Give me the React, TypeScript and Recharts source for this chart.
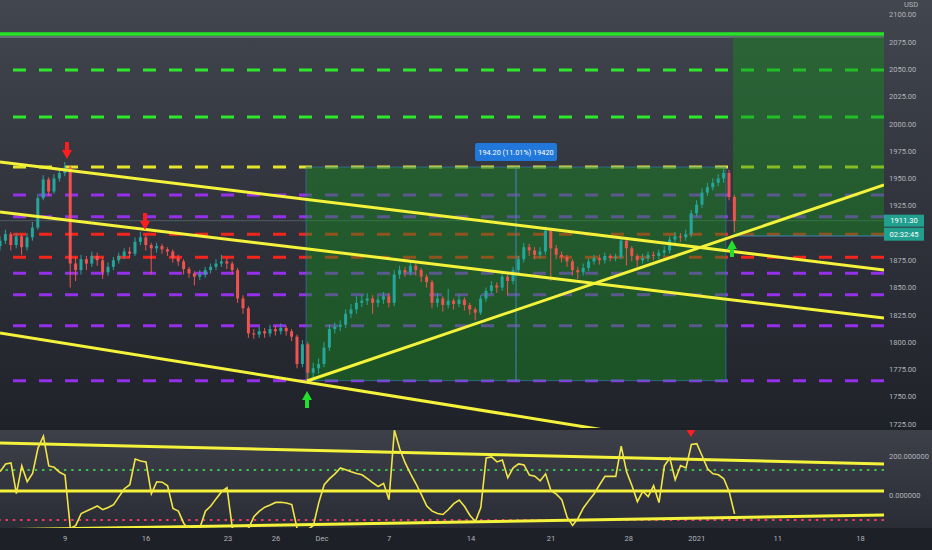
import React from "react";
import {
  ComposedChart,
  Bar,
  Line,
  XAxis,
  YAxis,
  ReferenceLine,
  ReferenceArea,
  ReferenceDot,
} from "recharts";

// time axis: trading-day index, Nov 9 = 0, three candles per day
const X_MIN = -4.012;
const X_MAX = 50.556;
const T0 = -4;

const dateTicks = [0, 5, 10.06, 13.02, 15.86, 20, 25.06, 30, 34.8, 39, 44, 49.1];
const dateLabels = ["9", "16", "23", "26", "Dec", "7", "14", "21", "28", "2021", "11", "18"];

// 1900 is hidden under the last-price tags on the original
const priceTicks = [1725, 1750, 1775, 1800, 1825, 1850, 1875, 1925, 1950, 1975, 2000, 2025, 2050, 2075, 2100];

const firstOpen = 1888;
const closes = [
  1893, 1899, 1889, 1897, 1887, 1896, 1905, 1932, 1949, 1938, 1950, 1955, 1960,
  1872, 1866, 1876, 1872, 1879, 1875, 1864, 1869, 1875, 1879, 1883, 1881,
  1892, 1896, 1889, 1886, 1888, 1885, 1883, 1877, 1874, 1867, 1863, 1860,
  1862, 1866, 1869, 1872, 1874, 1872, 1866, 1840, 1831, 1808, 1807, 1810,
  1808, 1812, 1810, 1813, 1810, 1805, 1780, 1798, 1772, 1776, 1780, 1795,
  1812, 1814, 1816, 1826, 1830, 1836, 1838, 1840, 1836, 1839, 1842, 1836,
  1862, 1866, 1864, 1870, 1866, 1860, 1855, 1836, 1840, 1834, 1838, 1835,
  1839, 1834, 1830, 1827, 1840, 1847, 1852, 1850, 1860, 1856, 1866, 1876,
  1887, 1884, 1880, 1883, 1902, 1886, 1880, 1878, 1874, 1866, 1864, 1868,
  1874, 1877, 1875, 1879, 1877, 1878, 1893, 1886, 1879, 1875, 1877, 1880,
  1879, 1882, 1884, 1894, 1897, 1896, 1899, 1918, 1926, 1937, 1942, 1946,
  1950, 1955, 1933, 1911,
];
const highs = [
  1897, 1903, 1901, 1900, 1899, 1900, 1910, 1936, 1953, 1951, 1954, 1959, 1965,
  1962, 1878, 1880, 1879, 1883, 1882, 1877, 1873, 1878, 1882, 1886, 1887,
  1896, 1901, 1898, 1891, 1891, 1890, 1887, 1885, 1880, 1876, 1869, 1865,
  1866, 1869, 1872, 1876, 1880, 1877, 1874, 1868, 1843, 1833, 1812, 1814,
  1813, 1816, 1815, 1817, 1815, 1812, 1807, 1802, 1800, 1781, 1785, 1800,
  1816, 1818, 1820, 1830, 1835, 1842, 1843, 1845, 1843, 1842, 1846, 1845,
  1866, 1870, 1869, 1874, 1872, 1868, 1862, 1857, 1845, 1842, 1849, 1840,
  1843, 1841, 1836, 1832, 1843, 1850, 1856, 1855, 1864, 1862, 1869, 1879,
  1891, 1890, 1887, 1887, 1906, 1904, 1889, 1883, 1880, 1876, 1869, 1872,
  1877, 1880, 1880, 1882, 1881, 1881, 1896, 1895, 1888, 1881, 1881, 1883,
  1883, 1885, 1888, 1897, 1901, 1900, 1903, 1921, 1930, 1941, 1946, 1950,
  1954, 1959, 1958, 1935,
];
const lows = [
  1884, 1890, 1884, 1886, 1880, 1884, 1893, 1903, 1930, 1934, 1936, 1947, 1952,
  1850, 1856, 1862, 1866, 1869, 1870, 1858, 1861, 1866, 1872, 1876, 1877,
  1879, 1889, 1884, 1862, 1882, 1881, 1879, 1873, 1870, 1862, 1859, 1852,
  1857, 1859, 1863, 1866, 1869, 1867, 1862, 1836, 1826, 1804, 1803, 1804,
  1804, 1805, 1806, 1807, 1806, 1801, 1776, 1777, 1765, 1767, 1771, 1777,
  1792, 1808, 1810, 1813, 1822, 1826, 1832, 1834, 1826, 1832, 1835, 1832,
  1833, 1858, 1860, 1861, 1861, 1855, 1850, 1831, 1832, 1828, 1831, 1830,
  1832, 1829, 1825, 1820, 1825, 1837, 1844, 1845, 1847, 1843, 1853, 1862,
  1873, 1879, 1876, 1877, 1880, 1856, 1876, 1873, 1869, 1861, 1858, 1861,
  1865, 1871, 1871, 1872, 1874, 1874, 1876, 1870, 1874, 1869, 1872, 1874,
  1875, 1876, 1879, 1881, 1891, 1892, 1893, 1896, 1915, 1923, 1934, 1939,
  1943, 1946, 1930, 1901,
];

const cci = [
  121, 160, 165, 10, 150, 70, 112, 240, 300, 150, 143, 118, 104,
  -165, -150, -90, -77, -65, -52, -70, -60, -45, -5, 35, 55,
  185, 175, 170, 10, 70, 68, 50, -65, -78, -140, -170, -170,
  -160, -78, -52, -15, 20, 40, -165, -170, -170, -165, -105, -78,
  -58, -47, -34, -33, -37, -45, -168, -170, -170, -150, -35, 55,
  86, 110, 140, 130, 120, 112, 105, 86, 65, 46, 62, -20,
  330, 235, 165, 110, 60, 5, -52, -78, -90, -95, -70, -40,
  -22, -55, -100, -130, -60, 190, 195, 170, 180, 90, 140, 160,
  155, 104, 98, 75, 110, 25, 8, -20, -110, -150, -115, -62,
  -25, 10, 55, 97, 97, 97, 250, 120, 50, -30, 22, -5,
  50, -35, 150, 190, 80, 152, 140, 258, 262, 200, 135, 110,
  105, 85, 20, -92,
];

// horizontal levels
const targetLevel = 2082.3;
const targetEdge = 2079.6;
const greenLevels = [2049.4, 2006.3];
const yellowLevels = [1960.5];
const purpleLevels = [1934.8, 1915.0, 1863.1, 1843.5, 1815.1, 1764.7];
const redLevels = [1898.8, 1877.7];
const lastPrice = 1911.3;

// trend lines [[t, price], [t, price]]
const priceTrends = [
  [[X_MIN, 1965.1], [X_MAX, 1866.1]],
  [[X_MIN, 1919.2], [X_MAX, 1822.1]],
  [[X_MIN, 1808.4], [X_MAX, 1678.3]],
  [[14.94, 1764.4], [X_MAX, 1944.0]],
];

// measured range box and long box
const rangeBox = { x1: 14.88, x2: 40.8, y1: 1764.7, y2: 1960.5, mid: 27.84 };
const longBox = { x1: 41.23, x2: X_MAX, y1: 1897.3, y2: 2079.6 };
const rangeText = "194.20 (11.01%) 19420";
const rangeTagPos = [27.84, 1974.2];

const downArrows = [[0.12, 1975.1], [4.94, 1910.1]];
const upArrows = [[14.94, 1747.9], [41.17, 1886.3]];

// indicator panel
const cciTicks = [0, 200];
const cciUpper = 129.5;
const cciLower = -122.5;
const cciMid = 23.7;
const cciTrends = [
  [[X_MIN, 265.6], [X_MAX, 159.8]],
  [[X_MIN, -171.9], [X_MAX, -97.3]],
];
const cciSignal = [38.64, 316];

const UP = "#26a69a";
const DOWN = "#ef5350";
const YELLOW = "#f4f23a";
const FONT = "Roboto, sans-serif";
const tickStyle = { fill: "#b2b5be", fontSize: 7.5, fontFamily: FONT };

const candles = closes.map((c, i) => ({
  t: T0 + i / 3,
  o: i === 0 ? firstOpen : closes[i - 1],
  h: highs[i],
  l: lows[i],
  c,
  range: [lows[i], highs[i]],
}));

const cciRows = cci.map((v, i) => ({ t: T0 + i / 3, v }));

const Candle = (props: any) => {
  const { x, y, width, height, payload } = props;
  if (!payload) return null;
  const { o, h, l, c } = payload;
  const top = Math.min(y, y + height);
  const span = Math.abs(height);
  const k = h === l ? 0 : span / (h - l);
  const yOf = (v: number) => top + (h - v) * k;
  const color = c >= o ? UP : DOWN;
  const bodyTop = yOf(Math.max(o, c));
  const bodyH = Math.max(1, Math.abs(yOf(o) - yOf(c)));
  const cx = x + width / 2;
  return (
    <g>
      <line x1={cx} x2={cx} y1={top} y2={top + span} stroke={color} strokeWidth={1} />
      <rect x={x} y={bodyTop} width={width} height={bodyH} fill={color} />
    </g>
  );
};

const DownArrow = ({ cx, cy }: any) => (
  <g fill="#ff1e1e">
    <rect x={cx - 2} y={cy - 9} width={4} height={9} />
    <polygon points={`${cx - 5},${cy - 1} ${cx + 5},${cy - 1} ${cx},${cy + 8}`} />
  </g>
);

const UpArrow = ({ cx, cy }: any) => (
  <g fill="#22e02a">
    <rect x={cx - 2} y={cy} width={4} height={9} />
    <polygon points={`${cx - 5},${cy + 1} ${cx + 5},${cy + 1} ${cx},${cy - 8}`} />
  </g>
);

const RangeTag = ({ cx, cy }: any) => (
  <g>
    <rect x={cx - 41} y={cy - 9} width={82} height={18} rx={2} fill="#2178da" />
    <text x={cx} y={cy + 2.5} textAnchor="middle" fill="#ffffff" fontSize={7.3} fontFamily={FONT}>
      {rangeText}
    </text>
  </g>
);

const PriceTag = ({ cx, cy }: any) => (
  <g fontFamily={FONT} fontSize={7.5}>
    <rect x={cx} y={cy - 6} width={40} height={12} fill="#22a08f" />
    <text x={cx + 20} y={cy + 2.6} textAnchor="middle" fill="#ffffff">
      {lastPrice.toFixed(2)}
    </text>
    <rect x={cx} y={cy + 7} width={40} height={13} fill="#22a08f" />
    <text x={cx + 20} y={cy + 16} textAnchor="middle" fill="#ffffff">
      02:32:45
    </text>
  </g>
);

const SignalTriangle = ({ cx, cy }: any) => (
  <polygon points={`${cx - 5},${cy - 4} ${cx + 5},${cy - 4} ${cx},${cy + 4}`} fill="#ff1e1e" />
);

const dash = "13 13";

function PriceChart() {
  return (
    <ComposedChart width={932} height={428} data={candles} margin={{ top: 0, right: 0, bottom: 0, left: 0 }}>
      <XAxis dataKey="t" type="number" domain={[X_MIN, X_MAX]} allowDataOverflow hide />
      <YAxis
        orientation="right"
        width={48}
        domain={[1721.33, 2113.5]}
        allowDataOverflow
        ticks={priceTicks}
        interval={0}
        tickFormatter={(v: number) => v.toFixed(2)}
        tick={tickStyle}
        tickLine={false}
        axisLine={false}
        tickSize={5}
        tickMargin={0}
      />
      <ReferenceLine y={lastPrice} stroke="#5b6f72" strokeWidth={1} strokeOpacity={0.7} zIndex={100} />
      <ReferenceLine y={targetEdge} stroke="#8d9a9c" strokeWidth={1} zIndex={100} />
      <ReferenceLine y={targetLevel} stroke="#27e327" strokeWidth={3.5} zIndex={100} />
      {greenLevels.map((v) => (
        <ReferenceLine key={"g" + v} y={v} stroke="#2ee82e" strokeWidth={3} strokeDasharray={dash} zIndex={100} />
      ))}
      {yellowLevels.map((v) => (
        <ReferenceLine key={"y" + v} y={v} stroke="#e4e42c" strokeWidth={3} strokeDasharray={dash} zIndex={100} />
      ))}
      {purpleLevels.map((v) => (
        <ReferenceLine key={"p" + v} y={v} stroke="#9430ea" strokeWidth={3} strokeDasharray={dash} zIndex={100} />
      ))}
      {redLevels.map((v) => (
        <ReferenceLine key={"r" + v} y={v} stroke="#f3261e" strokeWidth={3} strokeDasharray={dash} zIndex={100} />
      ))}
      <ReferenceArea
        x1={rangeBox.x1}
        x2={rangeBox.x2}
        y1={rangeBox.y1}
        y2={rangeBox.y2}
        fill="#148c1e"
        fillOpacity={0.45}
        stroke="#3b7fc0"
        strokeOpacity={0.6}
        zIndex={150}
      />
      <ReferenceArea
        x1={longBox.x1}
        x2={longBox.x2}
        y1={longBox.y1}
        y2={longBox.y2}
        fill="#148c1e"
        fillOpacity={0.45}
        zIndex={150}
      />
      <ReferenceLine
        segment={[{ x: rangeBox.mid, y: rangeBox.y1 }, { x: rangeBox.mid, y: rangeBox.y2 }]}
        stroke="#3c8ab8"
        strokeWidth={1}
        zIndex={160}
      />
      <ReferenceLine
        segment={[{ x: longBox.x1, y: longBox.y1 }, { x: longBox.x2, y: longBox.y1 }]}
        stroke="#3d86b8"
        strokeWidth={1}
        zIndex={160}
      />
      <Bar dataKey="range" barSize={3} shape={Candle} isAnimationActive={false} zIndex={200} />
      {priceTrends.map((s, i) => (
        <ReferenceLine
          key={"t" + i}
          segment={[{ x: s[0][0], y: s[0][1] }, { x: s[1][0], y: s[1][1] }]}
          stroke={YELLOW}
          strokeWidth={3}
          ifOverflow="hidden"
          zIndex={400}
        />
      ))}
      {downArrows.map((a, i) => (
        <ReferenceDot key={"d" + i} x={a[0]} y={a[1]} r={0} shape={DownArrow} ifOverflow="visible" zIndex={500} />
      ))}
      {upArrows.map((a, i) => (
        <ReferenceDot key={"u" + i} x={a[0]} y={a[1]} r={0} shape={UpArrow} ifOverflow="visible" zIndex={500} />
      ))}
      <ReferenceDot x={rangeTagPos[0]} y={rangeTagPos[1]} r={0} shape={RangeTag} ifOverflow="visible" zIndex={500} />
      <ReferenceDot x={X_MAX} y={lastPrice} r={0} shape={PriceTag} ifOverflow="visible" zIndex={500} />
    </ComposedChart>
  );
}

function IndicatorChart() {
  return (
    <ComposedChart width={932} height={120} data={cciRows} margin={{ top: 0, right: 0, bottom: 0, left: 0 }}>
      <XAxis
        dataKey="t"
        type="number"
        domain={[X_MIN, X_MAX]}
        allowDataOverflow
        ticks={dateTicks}
        interval={0}
        tickFormatter={(_v: number, i: number) => dateLabels[i]}
        tick={tickStyle}
        tickLine={false}
        axisLine={false}
        height={22}
      />
      <YAxis
        orientation="right"
        width={48}
        domain={[-163, 331]}
        allowDataOverflow
        ticks={cciTicks}
        interval={0}
        tickFormatter={(v: number) => v.toFixed(6)}
        tick={tickStyle}
        tickLine={false}
        axisLine={false}
        tickSize={5}
        tickMargin={0}
      />
      <ReferenceLine y={cciUpper} stroke="#3fbf4f" strokeWidth={2} strokeDasharray="2.5 4.8" />
      <ReferenceLine y={cciLower} stroke="#ec3a68" strokeWidth={2} strokeDasharray="2.5 4.8" />
      <ReferenceLine y={cciMid} stroke={YELLOW} strokeWidth={3} />
      {cciTrends.map((s, i) => (
        <ReferenceLine
          key={"c" + i}
          segment={[{ x: s[0][0], y: s[0][1] }, { x: s[1][0], y: s[1][1] }]}
          stroke={YELLOW}
          strokeWidth={3}
          ifOverflow="hidden"
        />
      ))}
      <Line dataKey="v" type="linear" dot={false} stroke="#f2e646" strokeWidth={1.6} isAnimationActive={false} />
      <ReferenceDot x={cciSignal[0]} y={cciSignal[1]} r={0} shape={SignalTriangle} ifOverflow="visible" />
    </ComposedChart>
  );
}

export default function App() {
  return (
    <div
      style={{
        position: "absolute",
        left: 0,
        top: 0,
        width: 932,
        height: 550,
        overflow: "hidden",
        background: "#1d2027",
        fontFamily: FONT,
      }}
    >
      <div
        style={{
          position: "absolute",
          left: 0,
          top: 0,
          width: 932,
          height: 428,
          background: "linear-gradient(#42464f, #32353e 45%, #1f2229)",
        }}
      />
      <div
        style={{
          position: "absolute",
          left: 0,
          top: 430,
          width: 932,
          height: 98,
          background: "linear-gradient(#3d4049, #2a2d35)",
        }}
      />
      <div style={{ position: "absolute", left: 0, top: 0 }}>
        <PriceChart />
      </div>
      <div style={{ position: "absolute", left: 0, top: 430 }}>
        <IndicatorChart />
      </div>
      <div
        style={{
          position: "absolute",
          left: 904,
          top: 0,
          color: "#b2b5be",
          fontSize: 7.5,
          lineHeight: "10px",
        }}
      >
        USD
      </div>
    </div>
  );
}
